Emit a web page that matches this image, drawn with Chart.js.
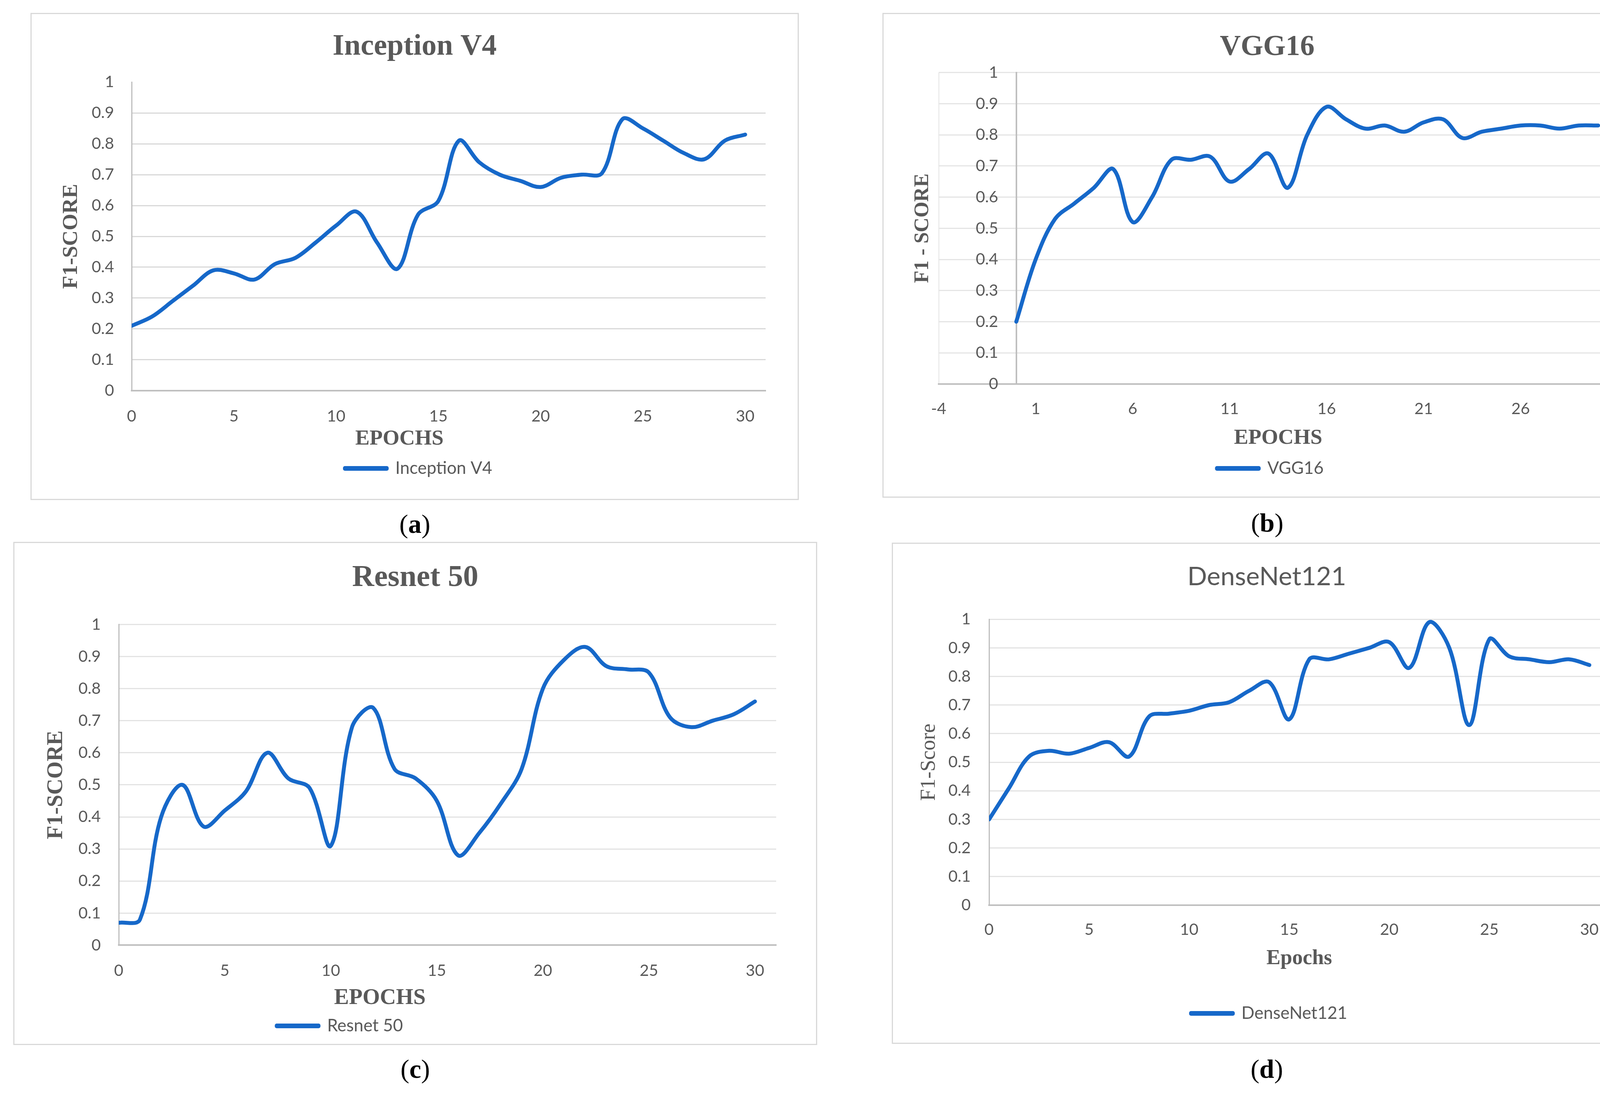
<!DOCTYPE html>
<html>
<head>
<meta charset="utf-8">
<title>F1-score per epoch</title>
<script src="https://cdn.jsdelivr.net/npm/chart.js@4.4.1/dist/chart.umd.min.js"></script>
<style>
    html, body { margin: 0; padding: 0; background: #fff; }
    body { width: 4249px; height: 2808px; position: relative; overflow: hidden; }
    .frame { position: absolute; box-sizing: border-box; border: 3px solid #d9d9d9; }
    .plot { position: absolute; }
    .cap { position: absolute; width: 300px; margin-left: -150px; text-align: center;
           font: 68px 'Liberation Serif', 'Times New Roman', serif; color: #000; line-height: 72px; }
</style>
</head>
<body>

<div class="frame" style="left:78px;top:33px;width:1967px;height:1247px"></div>
<div class="plot" style="left:78px;top:33px;width:1967px;height:1247px"><canvas id="inceptionChart"></canvas></div>
<div class="cap" style="left:1062px;top:1305px">(<b>a</b>)</div>

<div class="frame" style="left:2259px;top:33px;width:1970px;height:1241px"></div>
<div class="plot" style="left:2259px;top:33px;width:1970px;height:1241px"><canvas id="vggChart"></canvas></div>
<div class="cap" style="left:3244px;top:1302px">(<b>b</b>)</div>

<div class="frame" style="left:34px;top:1387px;width:2058px;height:1288px"></div>
<div class="plot" style="left:34px;top:1387px;width:2058px;height:1288px"><canvas id="resnetChart"></canvas></div>
<div class="cap" style="left:1063px;top:2700px">(<b>c</b>)</div>

<div class="frame" style="left:2283px;top:1389px;width:1920px;height:1283px"></div>
<div class="plot" style="left:2283px;top:1389px;width:1920px;height:1283px"><canvas id="densenetChart"></canvas></div>
<div class="cap" style="left:3243px;top:2700px">(<b>d</b>)</div>

<script>
/* ===== F1-score curves — four models ===== */

// ── Data ────────────────────────────────────────────────────────────────
const epochs = [0, 1, 2, 3, 4, 5, 6, 7, 8, 9, 10, 11, 12, 13, 14, 15,
                16, 17, 18, 19, 20, 21, 22, 23, 24, 25, 26, 27, 28, 29, 30];

const inceptionF1 = [0.21, 0.24, 0.29, 0.34, 0.39, 0.38, 0.36, 0.41, 0.43, 0.48, 0.535,
                     0.58, 0.48, 0.395, 0.57, 0.615, 0.81, 0.74, 0.70, 0.68, 0.66,
                     0.69, 0.70, 0.705, 0.88, 0.85, 0.81, 0.77, 0.75, 0.81, 0.83];

const vggF1 = [0.20, 0.40, 0.53, 0.58, 0.63, 0.69, 0.52, 0.60, 0.72, 0.72, 0.73,
               0.65, 0.69, 0.74, 0.63, 0.80, 0.89, 0.85, 0.82, 0.83, 0.81,
               0.84, 0.85, 0.79, 0.81, 0.82, 0.83, 0.83, 0.82, 0.83, 0.83];

const resnetF1 = [0.07, 0.08, 0.40, 0.50, 0.37, 0.42, 0.48, 0.60, 0.52, 0.49, 0.31,
                  0.68, 0.74, 0.55, 0.52, 0.45, 0.28, 0.35, 0.44, 0.55, 0.80,
                  0.89, 0.93, 0.87, 0.86, 0.85, 0.71, 0.68, 0.70, 0.72, 0.76];

const densenetF1 = [0.30, 0.41, 0.52, 0.54, 0.53, 0.55, 0.57, 0.52, 0.66, 0.67, 0.68,
                    0.70, 0.71, 0.75, 0.78, 0.65, 0.86, 0.86, 0.88, 0.90, 0.92,
                    0.83, 0.99, 0.90, 0.63, 0.93, 0.87, 0.86, 0.85, 0.86, 0.84];

const xTicksMain = [0, 5, 10, 15, 20, 25, 30];
const xTicksVgg = [-4, 1, 6, 11, 16, 21, 26, 31];
const yTicks = [0, 0.1, 0.2, 0.3, 0.4, 0.5, 0.6, 0.7, 0.8, 0.9, 1];

// ── Styling ─────────────────────────────────────────────────────────────
const BLUE = '#1668c9';
const INK = '#595959';
const AXIS = '#bfbfbf';
const SERIF = "'Liberation Serif', 'Times New Roman', serif";
const SANS = "Lato, 'Open Sans', sans-serif";

Chart.defaults.font.family = SANS;
Chart.defaults.color = INK;

// Excel had the legend / x title dragged off-centre: shift them sideways
const nudge = {
    id: 'nudge',
    afterLayout(chart, args, opts) {
        if (chart.legend && opts.legendDx) {
            chart.legend.left += opts.legendDx;
            chart.legend.right += opts.legendDx;
        }
        const x = chart.scales.x;
        if (opts.xTitleDx && !x.$nudged) {
            const drawTitle = x.drawTitle;
            x.drawTitle = function () {
                this.ctx.save();
                this.ctx.translate(opts.xTitleDx, 0);
                drawTitle.call(this);
                this.ctx.restore();
            };
            x.$nudged = true;
        }
    }
};

const setTicks = list => scale => { scale.ticks = list.map(v => ({ value: v })); };
const fixWidth = w => scale => { scale.width = w; };

function f1Chart(canvasId, p) {
    const side = p.side;   // same padding left & right keeps the title centred on the frame
    const scales = {
        x: {
            type: 'linear',
            min: p.xMin, max: p.xMax,
            afterBuildTicks: setTicks(p.xTicks),
            grid: p.xGrid || { display: false, drawTicks: false },
            border: { color: AXIS, width: 4 },
            ticks: { font: { size: 41 }, color: INK, padding: p.xTickPad, maxRotation: 0, autoSkip: false },
            title: {
                display: true, text: p.xTitle, color: INK,
                font: { family: SERIF, size: p.xTitleSize, weight: 'bold' },
                padding: { top: p.xTitlePad, bottom: 0 }
            }
        },
        y: {
            type: 'linear',
            min: 0, max: 1,
            afterBuildTicks: setTicks(yTicks),
            afterFit: fixWidth(p.chartLeft - side),
            grid: {
                drawTicks: false, lineWidth: 3,
                color: ctx => (p.noTopGrid && ctx.tick && ctx.tick.value === 1) ? 'rgba(0,0,0,0)' : p.gridColor
            },
            border: { display: !p.yAtZero, color: AXIS, width: 3 },
            ticks: {
                font: { size: 41 }, color: INK, padding: p.yTickPad,
                mirror: !!p.yAtZero, crossAlign: p.yAtZero ? 'far' : 'near',
                callback: v => String(v)
            },
            title: {
                display: true, text: p.yTitle, color: INK,
                font: { family: SERIF, size: p.yTitleSize, weight: p.yTitleWeight },
                padding: { top: p.yTitleX - side - p.yTitleSize * 0.6, bottom: 0 }
            }
        }
    };

    // VGG16: the vertical axis line crosses at epoch 0
    if (p.yAtZero) {
        scales.y0 = {
            axis: 'y', type: 'linear',
            position: { x: 0 },
            min: 0, max: 1,
            afterFit: fixWidth(0),
            grid: { display: false, drawTicks: false },
            border: { color: AXIS, width: 4 },
            ticks: { display: false }
        };
    }

    return new Chart(document.getElementById(canvasId), {
        type: 'line',
        data: {
            datasets: [{
                label: p.label,
                data: epochs.map((e, i) => ({ x: e, y: p.values[i] })),
                borderColor: BLUE,
                backgroundColor: BLUE,
                borderWidth: 10,
                borderCapStyle: 'round',
                borderJoinStyle: 'round',
                pointRadius: 0,
                tension: 0.35,
                fill: false
            }]
        },
        plugins: [nudge],
        options: {
            responsive: true,
            maintainAspectRatio: false,
            animation: false,
            devicePixelRatio: 1,
            layout: { padding: { left: side, top: 0, right: side, bottom: p.padBottom } },
            scales: scales,
            plugins: {
                title: {
                    display: true, text: p.title, color: INK,
                    font: p.titleFont,
                    padding: { top: p.titlePad[0], bottom: p.titlePad[1] }
                },
                legend: {
                    position: 'bottom',
                    labels: { boxWidth: 107, boxHeight: 2, color: INK, font: { size: 44 }, padding: p.legendPad }
                },
                nudge: { legendDx: p.legendDx || 0, xTitleDx: p.xTitleDx || 0 },
                tooltip: { enabled: false }
            }
        }
    });
}

document.addEventListener('DOMContentLoaded', function () {

    // ── (a) Inception V4 ────────────────────────────────────────────────
    f1Chart('inceptionChart', {
        label: 'Inception V4', values: inceptionF1,
        title: 'Inception V4', titleFont: { family: SERIF, size: 76, weight: 'bold' }, titlePad: [42, 44],
        xMin: 0, xMax: 31, xTicks: xTicksMain, xTickPad: 41,
        xTitle: 'EPOCHS', xTitleSize: 55, xTitlePad: -40, xTitleDx: -126,
        side: 85, chartLeft: 259, yTickPad: 45,
        yTitle: 'F1-SCORE', yTitleSize: 55, yTitleWeight: 'bold', yTitleX: 105,
        gridColor: '#d9d9d9', noTopGrid: true,
        legendPad: 20, legendDx: 10, padBottom: 49
    });

    // ── (b) VGG16 ───────────────────────────────────────────────────────
    // tick labels are mirrored into the plot so they sit just left of the x = 0 line
    f1Chart('vggChart', {
        label: 'VGG16', values: vggF1,
        title: 'VGG16', titleFont: { family: SERIF, size: 74, weight: 'bold' }, titlePad: [44, 20],
        xMin: -4, xMax: 31, xTicks: xTicksVgg, xTickPad: 39,
        xGrid: {
            drawTicks: false, lineWidth: 3,
            color: ctx => (ctx.tick && (ctx.tick.value === -4 || ctx.tick.value === 31)) ? '#ececec' : 'rgba(0,0,0,0)'
        },
        xTitle: 'EPOCHS', xTitleSize: 55, xTitlePad: -21,
        side: 88, chartLeft: 144, yTickPad: 95,
        yTitle: 'F1 - SCORE', yTitleSize: 52, yTitleWeight: 'bold', yTitleX: 104,
        yAtZero: true, gridColor: '#e5e5e5',
        legendPad: 22, legendDx: 8, padBottom: 43
    });

    // ── (c) Resnet 50 ───────────────────────────────────────────────────
    f1Chart('resnetChart', {
        label: 'Resnet 50', values: resnetF1,
        title: 'Resnet 50', titleFont: { family: SERIF, size: 78, weight: 'bold' }, titlePad: [46, 72],
        xMin: 0, xMax: 31, xTicks: xTicksMain, xTickPad: 41,
        xTitle: 'EPOCHS', xTitleSize: 57, xTitlePad: -30, xTitleDx: -173,
        side: 105, chartLeft: 270, yTickPad: 46,
        yTitle: 'F1-SCORE', yTitleSize: 57, yTitleWeight: 'bold', yTitleX: 110,
        gridColor: '#e3e3e3',
        legendPad: 15, legendDx: -193, padBottom: 17
    });

    // ── (d) DenseNet121 ─────────────────────────────────────────────────
    f1Chart('densenetChart', {
        label: 'DenseNet121', values: densenetF1,
        title: 'DenseNet121', titleFont: { family: SANS, size: 66, weight: 'normal' }, titlePad: [48, 69],
        xMin: 0, xMax: 31, xTicks: xTicksMain, xTickPad: 38,
        xTitle: 'Epochs', xTitleSize: 54, xTitlePad: -21,
        side: 83, chartLeft: 249, yTickPad: 47,
        yTitle: 'F1-Score', yTitleSize: 54, yTitleWeight: 'normal', yTitleX: 96,
        gridColor: '#e3e3e3',
        legendPad: 86, legendDx: 6, padBottom: 46
    });

});
</script>
</body>
</html>
